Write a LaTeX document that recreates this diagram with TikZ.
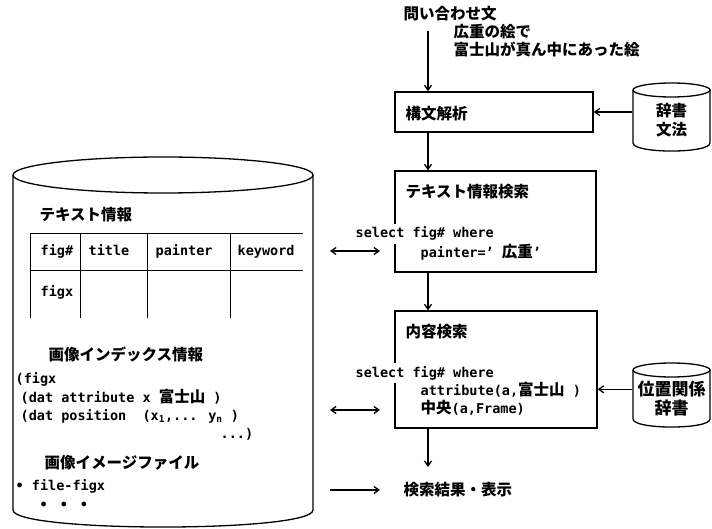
\documentclass[tikz,border=0pt]{standalone}
\usepackage{fontspec}
\setmainfont{DejaVu Sans Mono}
\newfontfamily\jpf{Noto Sans CJK JP}
\usetikzlibrary{arrows.meta}
\newcommand\J[1]{{\jpf\bfseries\fontsize{15.5}{20}\selectfont #1}}
\tikzset{
  lbl/.style={anchor=base west, inner sep=0pt},
  mask/.style={anchor=base west, inner sep=3pt, fill=white},
  stepbox/.style={draw, line width=1.3pt},
  cyltext/.style={inner sep=0pt, minimum width=77pt, align=center, font=\jpf\bfseries\fontsize{15.5}{19}\selectfont},
  arr/.style={-{Straight Barb[length=5pt,width=7pt]}, line width=1.3pt},
  darr/.style={{Straight Barb[length=5pt,width=7pt]}-{Straight Barb[length=5pt,width=7pt]}, line width=1.3pt},
  thin/.style={line width=0.9pt}
}
\begin{document}
\begin{tikzpicture}[x=1pt,y=-1pt,font=\fontsize{13.5}{16}\selectfont\bfseries,line width=1.3pt]
\useasboundingbox (0,0) rectangle (712,529);
% ---------- query text
\node[lbl] (query) at (403,20) {\J{問い合わせ文}};
\node[lbl] (q1) at (453,38) {\J{広重の絵で}};
\node[lbl] (q2) at (453,56) {\J{富士山が真ん中にあった絵}};
\coordinate (ax) at (428,0);
\coordinate (qstart) at (428,31);
% ---------- boxes
\node[stepbox, minimum width=198pt, minimum height=40pt] (parse) at (494,112) {};
\node[stepbox, minimum width=201pt, minimum height=101pt] (ts) at (495.5,221.5) {};
\node[stepbox, minimum width=202pt, minimum height=117pt] (cs) at (496,369.5) {};
\node[lbl] (parset) at (405,120) {\J{構文解析}};
\node[lbl] (tst) at (405,198) {\J{テキスト情報検索}};
\node[lbl] (cst) at (405,337) {\J{内容検索}};
% ---------- code lines
\node[mask] (sel1) at (352,238) {select fig\# where};
\node[lbl] (paint) at (420,258) {painter=' \J{広重}'};
\node[mask] (sel2) at (352,377) {select fig\# where};
\node[lbl] (attr) at (420,395) {attribute(a,\J{富士山} )};
\node[lbl] (cent) at (420,413) {\J{中央}(a,Frame)};
\node[lbl] (result) at (403,495) {\J{検索結果・表示}};
% ---------- vertical arrows
\coordinate (rend) at (428,467);
\draw[arr] (qstart) -- (parse.north -| ax);
\draw[arr] (parse.south -| ax) -- (ts.north -| ax);
\draw[arr] (ts.south -| ax) -- (cs.north -| ax);
\draw[arr] (cs.south -| ax) -- (rend);
% ---------- right cylinders
\draw (671.5,90) ellipse [x radius=38.5, y radius=7];
\draw (633,90) -- (633,143) .. controls (633,153.7) and (710,153.7) .. (710,143) -- (710,90);
\node[cyltext] (dict1) at (671.5,120) {辞書\\文法};
\draw (671.5,370) ellipse [x radius=38.5, y radius=7];
\draw (633,370) -- (633,419) .. controls (633,429.7) and (710,429.7) .. (710,419) -- (710,370);
\node[cyltext, font=\jpf\bfseries\fontsize{17}{19}\selectfont] (dict2) at (671.5,399) {位置関係\\辞書};
\draw[arr] (dict1.west |- parse.east) -- (parse.east);
\draw[arr] (dict2.west |- attr.west) -- (cs.east |- attr.west);
% ---------- left database cylinder
\draw (163,175) ellipse [x radius=150, y radius=18];
\draw (13,175) -- (13,510) .. controls (13,532.7) and (313,532.7) .. (313,510) -- (313,175);
\node[lbl] (tinfo) at (39,221) {\J{テキスト情報}};
\draw[thin] (30,233) -- (303,233);
\draw[thin] (30,270) -- (303,270);
\foreach \cx in {30,80,147,230} \draw[thin] (\cx,233) -- (\cx,318);
\node[lbl] (h1) at (40,256) {fig\#};
\node[lbl] (h2) at (88,256) {title};
\node[lbl] (h3) at (155,256) {painter};
\node[lbl] (h4) at (237,256) {keyword};
\node[lbl] (r1) at (40,297) {figx};
\node[lbl] (idx) at (48,360) {\J{画像インデックス情報}};
\node[lbl] (l1) at (15,383) {(figx};
\node[lbl] (l2) at (20,402) {(dat attribute x \J{富士山} )};
\node[lbl] (l3) at (20,420) {(dat position\ \ (x\textsubscript{1},... y\textsubscript{n} )};
\node[lbl] (l4) at (220,438) {...)};
\node[lbl] (img) at (44,468) {\J{画像イメージファイル}};
\node[lbl] (file) at (15,490) {• file-figx};
\node[lbl] (dots) at (39,509) {•\hspace{12pt}•\hspace{12pt}•};
% ---------- left arrows
\coordinate (a1s) at (330,251);
\coordinate (a1e) at (380,251);
\coordinate (a2s) at (330,410);
\coordinate (a2e) at (380,410);
\coordinate (a3s) at (330,490);
\coordinate (a3e) at (380,490);
\draw[darr] (a1s) -- (a1e);
\draw[darr] (a2s) -- (a2e);
\draw[arr] (a3s) -- (a3e);
\end{tikzpicture}
\end{document}
